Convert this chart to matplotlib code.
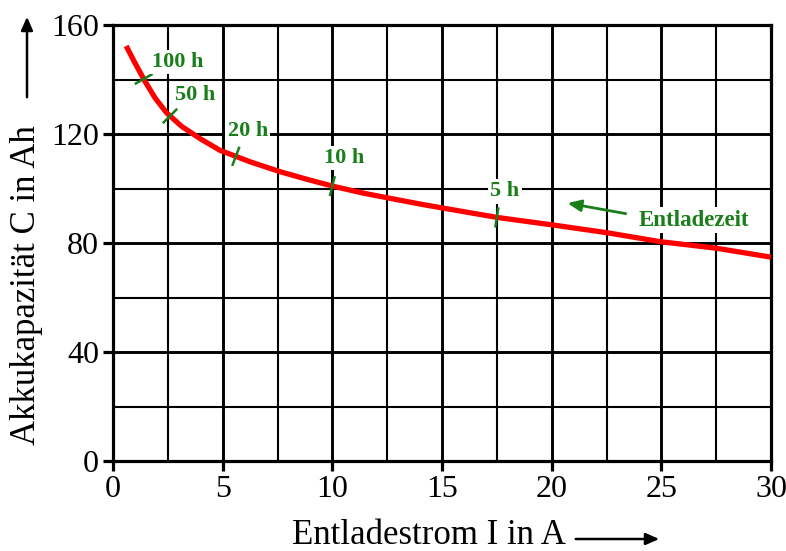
import numpy as np
import matplotlib
matplotlib.use("Agg")
import matplotlib.pyplot as plt

# ---- data ----
current_A = [0.6, 1.0, 1.46, 1.92, 2.45, 3.13, 3.97, 4.88, 5.7, 6.25, 7.6,
             8.83, 10.05, 11.41, 12.63, 14.2, 17.5, 20.07, 22.5, 24.94, 27.5, 30.0]
capacity_Ah = [152.3, 146.1, 139.3, 133.2, 127.7, 122.8, 118.3, 114.0, 111.5, 109.8, 106.2,
               103.4, 100.8, 98.3, 96.4, 94.0, 89.4, 86.6, 83.8, 80.5, 78.1, 74.8]

hour_labels = ["100 h", "50 h", "20 h", "10 h", "5 h"]
mark_I = [1.4, 2.6, 5.6, 10.0, 17.5]

x_ticks = [0, 5, 10, 15, 20, 25, 30]
y_ticks = [0, 40, 80, 120, 160]

GREEN = "#1a7f1a"
plt.rcParams['font.family'] = ['Liberation Serif', 'DejaVu Serif']

fig = plt.figure(figsize=(7.86, 5.51), dpi=100)
ax = fig.add_axes([113/786, 1-461/551, (771-113)/786, (461-25)/551])
ax.set_xlim(0, 30)
ax.set_ylim(0, 160)

# grid
for xv in np.arange(2.5, 30, 2.5):
    lw = 2.1 if xv % 5 == 0 else 1.5
    ax.axvline(xv, color="black", lw=lw, zorder=1)
for yv in np.arange(20, 160, 20):
    lw = 2.1 if yv % 40 == 0 else 1.5
    ax.axhline(yv, color="black", lw=lw, zorder=1)

for s in ax.spines.values():
    s.set_linewidth(2.3)
    s.set_zorder(3)

ax.set_xticks(x_ticks)
ax.set_yticks(y_ticks)
ax.tick_params(direction="out", length=7, width=2.3, labelsize=23, pad=3)

# curve
ax.plot(current_A, capacity_Ah, color="#ff0000", lw=3.8, zorder=4,
        solid_capstyle="butt", solid_joinstyle="round")

# tick marks perpendicular to curve + labels
label_offsets = [(34, 17), (25, 21), (12, 25), (12, 28), (8, 26)]
fig.canvas.draw()
trans = ax.transData
half_len = 9.0
for lab, xi, off in zip(hour_labels, mark_I, label_offsets):
    ci = np.interp(xi, current_A, capacity_Ah)
    dx = 0.3
    p0 = trans.transform((xi - dx, np.interp(xi - dx, current_A, capacity_Ah)))
    p1 = trans.transform((xi + dx, np.interp(xi + dx, current_A, capacity_Ah)))
    d = p1 - p0
    d = d / np.hypot(*d)
    n = np.array([-d[1], d[0]])
    c = trans.transform((xi, ci))
    a = trans.inverted().transform(c - n * half_len)
    b = trans.inverted().transform(c + n * half_len)
    ax.plot([a[0], b[0]], [a[1], b[1]], color=GREEN, lw=1.8, zorder=5)
    ax.annotate(lab, (xi, ci), xytext=off, textcoords="offset pixels",
                ha="center", va="center", fontsize=16, fontweight="bold", color=GREEN,
                bbox=dict(boxstyle="square,pad=0.1", fc="white", ec="none"), zorder=6)

ax.annotate("", xy=(20.6, 94.8), xytext=(23.5, 90.6),
            arrowprops=dict(arrowstyle="-|>,head_length=0.8,head_width=0.35", color=GREEN, lw=2.0), zorder=6)
ax.text(26.5, 88.4, "Entladezeit", ha="center", va="center", fontsize=16.5, fontweight="bold",
        color=GREEN, bbox=dict(boxstyle="square,pad=0.1", fc="white", ec="none"), zorder=6)

# axis labels with arrows
fig.text(429/786, 1-536/551, "Entladestrom I in A", ha="center", va="center", fontsize=25)
fig.add_artist(matplotlib.patches.FancyArrowPatch((573/786, 1-539/551), (662/786, 1-539/551),
               transform=fig.transFigure, arrowstyle="-|>,head_length=8,head_width=3.5",
               mutation_scale=1, color="black", lw=1.8))
fig.text(27/786, 1-285/551, "Akkukapazität C in Ah", ha="center", va="center", fontsize=25, rotation=90)
fig.add_artist(matplotlib.patches.FancyArrowPatch((27/786, 1-100/551), (27/786, 1-14/551),
               transform=fig.transFigure, arrowstyle="-|>,head_length=8,head_width=3.5",
               mutation_scale=1, color="black", lw=1.8))

fig.savefig("out.png", dpi=100)
